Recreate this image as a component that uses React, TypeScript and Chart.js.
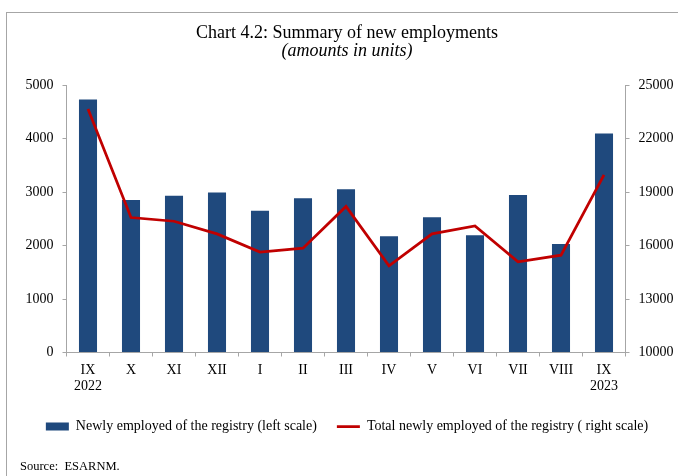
import React, { useEffect, useRef } from "react";
import { Chart, registerables } from "chart.js";

Chart.register(...registerables);

const categories: string[][] = [
  ["IX", "2022"], ["X"], ["XI"], ["XII"], ["I"], ["II"], ["III"],
  ["IV"], ["V"], ["VI"], ["VII"], ["VIII"], ["IX", "2023"],
];
const newlyEmployedRegistry = [4730, 2850, 2930, 2990, 2650, 2885, 3050, 2175, 2530, 2190, 2945, 2030, 4095];
const totalNewlyEmployed = [23660, 17570, 17360, 16650, 15630, 15850, 18190, 14860, 16650, 17100, 15080, 15460, 19960];
const leftTicks = [0, 1000, 2000, 3000, 4000, 5000];
const rightTicks = [10000, 13000, 16000, 19000, 22000, 25000];

const titleText = "Chart 4.2: Summary of new employments";
const subtitleText = "(amounts in units)";
const barLabel = "Newly employed of the registry (left scale)";
const lineLabel = "Total newly employed of the registry ( right scale)";
const sourceText = "Source:  ESARNM.";

const FONT = "'Liberation Serif', 'Times New Roman', serif";
const BAR_COLOR = "#1F497D";
const LINE_COLOR = "#C00000";
const AXIS_COLOR = "#a6a6a6";

export default function App() {
  const ref = useRef<HTMLCanvasElement>(null);

  useEffect(() => {
    const tickFont = { family: FONT, size: 14 };
    const chart = new Chart(ref.current as HTMLCanvasElement, {
      type: "bar",
      data: {
        labels: categories as any,
        datasets: [
          {
            type: "bar",
            label: barLabel,
            data: newlyEmployedRegistry,
            backgroundColor: BAR_COLOR,
            borderWidth: 0,
            yAxisID: "y",
            order: 2,
            categoryPercentage: 1,
            barPercentage: 0.42,
          } as any,
          {
            type: "line",
            label: lineLabel,
            data: totalNewlyEmployed,
            borderColor: LINE_COLOR,
            backgroundColor: LINE_COLOR,
            borderWidth: 2.75,
            pointRadius: 0,
            tension: 0,
            yAxisID: "y1",
            order: 1,
          } as any,
        ],
      },
      options: {
        responsive: false,
        animation: false,
        layout: { padding: { left: 16, right: 0, top: 0, bottom: 32.5 } },
        plugins: {
          title: {
            display: true,
            text: titleText,
            color: "#000",
            font: { family: FONT, size: 18, weight: "normal", lineHeight: 1 },
            padding: { top: 24, bottom: 0 },
          },
          subtitle: {
            display: true,
            text: subtitleText,
            color: "#000",
            font: { family: FONT, size: 18, style: "italic", weight: "normal", lineHeight: 1 },
            padding: { top: 0, bottom: 25 },
          },
          legend: {
            position: "bottom",
            labels: {
              usePointStyle: true,
              pointStyleWidth: 23,
              boxHeight: 8,
              padding: 20,
              color: "#000",
              font: { family: FONT, size: 14 },
              sort: (a: any, b: any) => a.datasetIndex - b.datasetIndex,
              generateLabels: (c: any) => {
                const items = (Chart.defaults.plugins.legend.labels as any).generateLabels(c);
                return items.map((it: any) =>
                  it.datasetIndex === 0
                    ? { ...it, pointStyle: "rect", lineWidth: 0, fillStyle: BAR_COLOR, strokeStyle: BAR_COLOR }
                    : { ...it, pointStyle: "line", lineWidth: 2.75, fillStyle: LINE_COLOR, strokeStyle: LINE_COLOR }
                );
              },
            },
          },
          tooltip: { enabled: false },
        },
        scales: {
          x: {
            grid: { display: true, drawOnChartArea: false, drawTicks: true, tickLength: 4, color: AXIS_COLOR, offset: true },
            border: { display: true, color: AXIS_COLOR, width: 1 },
            ticks: { color: "#000", font: { ...tickFont, lineHeight: 16 / 14 }, padding: 6, maxRotation: 0, autoSkip: false },
            afterFit: (s: any) => { s.height = 47; },
          },
          y: {
            position: "left",
            min: 0,
            max: 5000,
            afterBuildTicks: (s: any) => { s.ticks = leftTicks.map((v) => ({ value: v })); },
            ticks: { color: "#000", font: tickFont, padding: 9, callback: (v: any) => String(v) },
            grid: { drawOnChartArea: false, tickLength: 4, color: AXIS_COLOR },
            border: { display: true, color: AXIS_COLOR, width: 1 },
            afterFit: (s: any) => { s.width = 50.5; },
          },
          y1: {
            position: "right",
            min: 10000,
            max: 25000,
            afterBuildTicks: (s: any) => { s.ticks = rightTicks.map((v) => ({ value: v })); },
            ticks: { color: "#000", font: tickFont, padding: 9, callback: (v: any) => String(v) },
            grid: { drawOnChartArea: false, tickLength: 4, color: AXIS_COLOR },
            border: { display: true, color: AXIS_COLOR, width: 1 },
            afterFit: (s: any) => { s.width = 52.5; },
          },
        },
      } as any,
    });
    return () => chart.destroy();
  }, []);

  return (
    <div style={{ position: "absolute", left: 0, top: 0, width: 678, height: 476, background: "#fff", overflow: "hidden" }}>
      <div
        style={{
          position: "absolute",
          left: 6,
          top: 12,
          right: -2,
          bottom: -2,
          borderTop: `1.5px solid ${AXIS_COLOR}`,
          borderLeft: `1.5px solid ${AXIS_COLOR}`,
        }}
      />
      <canvas ref={ref} width={678} height={476} style={{ position: "absolute", left: 0, top: 0, display: "block" }} />
      <div
        style={{
          position: "absolute",
          left: 20,
          top: 460,
          fontFamily: FONT,
          fontSize: 12.5,
          lineHeight: "13px",
          whiteSpace: "pre",
          color: "#000",
        }}
      >
        {sourceText}
      </div>
    </div>
  );
}
